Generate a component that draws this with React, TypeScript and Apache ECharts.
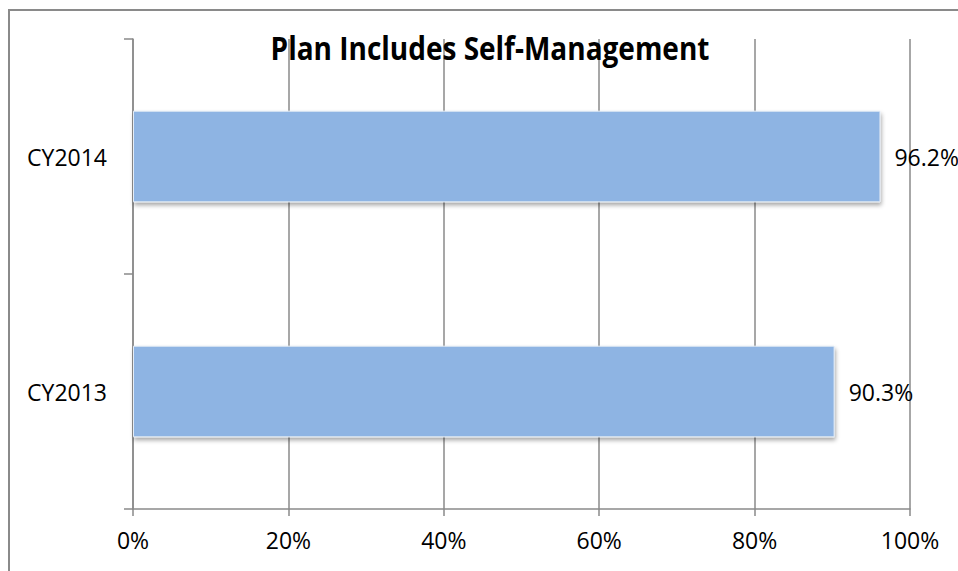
import React, { useEffect, useRef } from "react";
import * as echarts from "echarts";

const categories = ["CY2013", "CY2014"];
const values = [90.3, 96.2];
const xTicks = [0, 20, 40, 60, 80, 100];
const titleText = "Plan Includes Self-Management";

export default function App() {
  const ref = useRef<HTMLDivElement>(null);
  useEffect(() => {
    if (!ref.current) return;
    const chart = echarts.init(ref.current, null, { renderer: "svg" });
    const font = "'Open Sans', 'Liberation Sans', sans-serif";
    const gray = "#8a8a8a";
    chart.setOption({
      animation: false,
      backgroundColor: "#ffffff",
      textStyle: { fontFamily: font },
      graphic: [
        {
          type: "rect",
          shape: { x: 9, y: 10, width: 980, height: 600 },
          style: { fill: "none", stroke: gray, lineWidth: 2 },
          z: 100,
        },
        {
          type: "text",
          x: 490,
          y: 48,
          scaleY: 1.15,
          style: {
            text: titleText,
            fontFamily: font,
            fontWeight: "bold",
            fontSize: 28,
            fill: "#000",
            textAlign: "center",
            textVerticalAlign: "middle",
          },
          z: 100,
        },
      ],
      grid: { left: 133, right: 48, top: 39, bottom: 62, containLabel: false },
      xAxis: {
        type: "value",
        min: xTicks[0],
        max: xTicks[xTicks.length - 1],
        interval: 20,
        axisLine: { show: true, lineStyle: { color: gray, width: 1.5 } },
        axisTick: { show: true, length: 7, lineStyle: { color: gray, width: 1.5 } },
        splitLine: { show: true, lineStyle: { color: gray, width: 1.5 } },
        axisLabel: {
          formatter: "{value}%",
          fontSize: 23,
          color: "#000",
          margin: 19,
          fontFamily: font,
        },
      },
      yAxis: {
        type: "category",
        data: categories,
        axisLine: { show: true, lineStyle: { color: gray, width: 1.5 } },
        axisTick: { show: true, length: 9, lineStyle: { color: gray, width: 1.5 } },
        axisLabel: { fontSize: 23, color: "#000", margin: 26, fontFamily: font },
      },
      series: [
        {
          type: "bar",
          data: values,
          barWidth: "39%",
          itemStyle: {
            color: "#8eb4e3",
            borderColor: "#e4ecf6",
            borderWidth: 1,
            shadowColor: "rgba(0,0,0,0.35)",
            shadowBlur: 4,
            shadowOffsetX: 1,
            shadowOffsetY: 3,
          },
          label: {
            show: true,
            position: "right",
            distance: 14,
            formatter: (p: any) => p.value.toFixed(1) + "%",
            fontSize: 23,
            color: "#000",
            fontFamily: font,
          },
        },
      ],
    });
    return () => chart.dispose();
  }, []);
  return (
    <div
      ref={ref}
      style={{ position: "absolute", left: 0, top: 0, width: 958, height: 571 }}
    />
  );
}
